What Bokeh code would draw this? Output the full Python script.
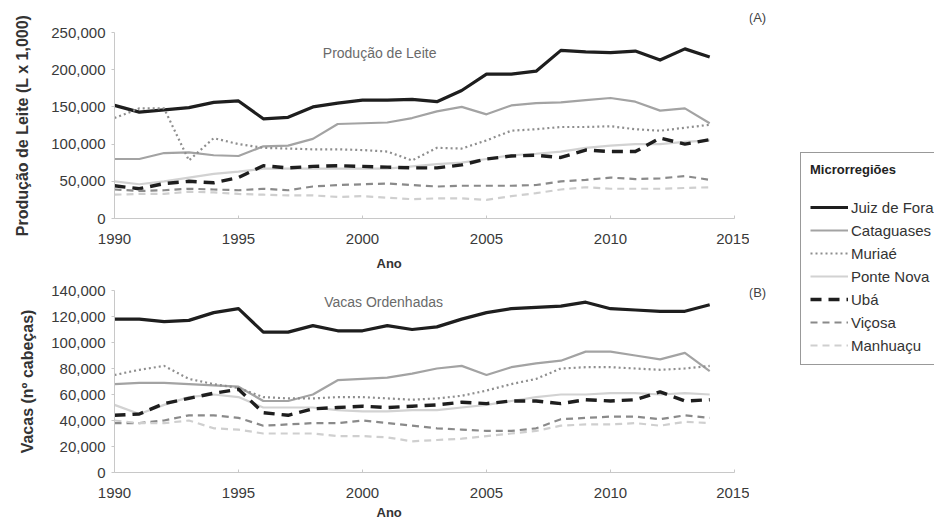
from bokeh.plotting import figure
from bokeh.layouts import row, column
from bokeh.models import (Range1d, FixedTicker, NumeralTickFormatter, Label, Title,
                          Legend, LegendItem, ColumnDataSource)
from bokeh.embed import file_html
from bokeh.resources import INLINE

years = list(range(1990, 2015))

regions = ["Juiz de Fora", "Cataguases", "Muriaé", "Ponte Nova", "Ubá", "Viçosa", "Manhuaçu"]

# Produção de leite (L x 1,000)
leite_juiz = [152000, 143000, 146000, 149000, 156000, 158000, 134000, 136000, 150000, 155000,
              159000, 159000, 160000, 157000, 172000, 194000, 194000, 198000, 226000, 224000,
              223000, 225000, 213000, 228000, 217000]
leite_catag = [80000, 80000, 88000, 89000, 85000, 84000, 97000, 98000, 107000, 127000,
               128000, 129000, 135000, 144000, 150000, 140000, 152000, 155000, 156000, 159000,
               162000, 157000, 145000, 148000, 128000]
leite_muriae = [135000, 148000, 148000, 78000, 108000, 100000, 95000, 94000, 93000, 93000,
                92000, 90000, 78000, 95000, 94000, 105000, 118000, 120000, 123000, 123000,
                124000, 120000, 118000, 122000, 126000]
leite_ponte = [50000, 46000, 50000, 55000, 60000, 63000, 67000, 67000, 67000, 67000,
               67000, 67000, 70000, 73000, 75000, 80000, 85000, 87000, 90000, 95000,
               98000, 100000, 100000, 103000, 105000]
leite_uba = [44000, 40000, 47000, 50000, 48000, 55000, 71000, 68000, 70000, 71000,
             70000, 69000, 68000, 68000, 72000, 80000, 84000, 85000, 82000, 92000,
             90000, 90000, 108000, 100000, 106000]
leite_vicosa = [39000, 37000, 38000, 40000, 39000, 38000, 40000, 38000, 43000, 45000,
                46000, 47000, 45000, 43000, 44000, 44000, 44000, 45000, 50000, 52000,
                55000, 53000, 54000, 57000, 52000]
leite_manhuacu = [32000, 33000, 33000, 36000, 35000, 33000, 32000, 31000, 31000, 29000,
                  30000, 28000, 26000, 27000, 27000, 25000, 30000, 34000, 39000, 42000,
                  40000, 40000, 40000, 41000, 42000]

# Vacas ordenhadas (nº cabeças)
vacas_juiz = [118000, 118000, 116000, 117000, 123000, 126000, 108000, 108000, 113000, 109000,
              109000, 113000, 110000, 112000, 118000, 123000, 126000, 127000, 128000, 131000,
              126000, 125000, 124000, 124000, 129000]
vacas_catag = [68000, 69000, 69000, 68000, 67000, 66000, 55000, 55000, 60000, 71000,
               72000, 73000, 76000, 80000, 82000, 75000, 81000, 84000, 86000, 93000,
               93000, 90000, 87000, 92000, 78000]
vacas_muriae = [75000, 79000, 82000, 72000, 68000, 65000, 58000, 57000, 57000, 58000,
                58000, 57000, 56000, 57000, 59000, 63000, 68000, 72000, 80000, 81000,
                81000, 80000, 79000, 80000, 82000]
vacas_ponte = [52000, 45000, 52000, 58000, 60000, 58000, 50000, 50000, 50000, 48000,
               47000, 47000, 48000, 48000, 50000, 52000, 55000, 58000, 60000, 60000,
               61000, 61000, 60000, 61000, 60000]
vacas_uba = [44000, 45000, 53000, 57000, 61000, 64000, 46000, 44000, 49000, 50000,
             51000, 50000, 51000, 52000, 54000, 53000, 55000, 55000, 53000, 56000,
             55000, 56000, 62000, 55000, 56000]
vacas_vicosa = [38000, 38000, 40000, 44000, 44000, 42000, 36000, 37000, 38000, 38000,
                40000, 38000, 36000, 34000, 33000, 32000, 32000, 34000, 41000, 42000,
                43000, 43000, 41000, 44000, 42000]
vacas_manhuacu = [40000, 38000, 38000, 40000, 34000, 33000, 30000, 30000, 30000, 28000,
                  28000, 27000, 24000, 25000, 26000, 28000, 30000, 32000, 36000, 37000,
                  37000, 38000, 36000, 39000, 38000]

x_ticks = [1990, 1995, 2000, 2005, 2010, 2015]
leite_ticks = [0, 50000, 100000, 150000, 200000, 250000]
vacas_ticks = [0, 20000, 40000, 60000, 80000, 100000, 120000, 140000]

styles = [
    dict(line_color="#1e1e1e", line_width=3.2, line_dash="solid"),
    dict(line_color="#a3a3a3", line_width=2.2, line_dash="solid"),
    dict(line_color="#8e8e8e", line_width=2.2, line_dash="2 3"),
    dict(line_color="#d2d2d2", line_width=2.2, line_dash="solid"),
    dict(line_color="#1e1e1e", line_width=3.4, line_dash="11 7"),
    dict(line_color="#8a8a8a", line_width=2.2, line_dash="7 5"),
    dict(line_color="#cfcfcf", line_width=2.2, line_dash="7 5"),
]

FONT = "Liberation Sans"


def make_panel(height, top, bottom, ymax, yticks, series, ylabel, ylab_standoff,
               title, tx, ty, ano_standoff):
    p = figure(width=749, height=height, output_backend="svg", toolbar_location=None,
               x_range=Range1d(1990, 2015), y_range=Range1d(0, ymax),
               min_border_left=114, min_border_right=15,
               min_border_top=top, min_border_bottom=bottom)
    p.outline_line_color = None
    p.grid.visible = False
    p.background_fill_color = "white"
    p.border_fill_color = "white"
    for ys, st in zip(series, styles):
        src = ColumnDataSource(dict(x=years, y=ys))
        p.line("x", "y", source=src, line_join="round", **st)
    p.xaxis.ticker = FixedTicker(ticks=x_ticks)
    p.yaxis.ticker = FixedTicker(ticks=yticks)
    p.yaxis.formatter = NumeralTickFormatter(format="0,0")
    for ax in (p.xaxis[0], p.yaxis[0]):
        ax.axis_line_color = "#c8c8c8"
        ax.major_tick_line_color = "#c8c8c8"
        ax.minor_tick_line_color = None
        ax.major_label_text_font = FONT
        ax.major_label_text_font_size = "15px"
        ax.major_label_text_color = "#3a3a3a"
    p.xaxis.major_tick_in = 3
    p.xaxis.major_tick_out = 0
    p.xaxis.major_label_standoff = 15
    p.yaxis.major_tick_in = 0
    p.yaxis.major_tick_out = 3
    p.yaxis.major_label_standoff = 6
    p.yaxis.axis_label = ylabel
    p.yaxis.axis_label_text_font = FONT
    p.yaxis.axis_label_text_font_size = "16px"
    p.yaxis.axis_label_text_font_style = "bold"
    p.yaxis.axis_label_text_color = "#333333"
    p.yaxis.axis_label_standoff = ylab_standoff
    p.add_layout(Label(x=tx, y=ty, text=title, text_font=FONT, text_font_size="14px",
                       text_color="#6a6a6a", text_align="center", text_baseline="middle"))
    p.add_layout(Title(text="Ano", align="left", offset=262, standoff=ano_standoff,
                       text_font=FONT, text_font_size="13px", text_font_style="bold",
                       text_color="#333333"), "below")
    return p


p1 = make_panel(280, 32, 62, 250000, leite_ticks,
                [leite_juiz, leite_catag, leite_muriae, leite_ponte, leite_uba, leite_vicosa, leite_manhuacu],
                "Produção de Leite (L x 1,000)", 17, "Produção de Leite", 2000.69, 221800, 15)
p2 = make_panel(243, 10, 51, 140000, vacas_ticks,
                [vacas_juiz, vacas_catag, vacas_muriae, vacas_ponte, vacas_uba, vacas_vicosa, vacas_manhuacu],
                "Vacas (nº cabeças)", 12, "Vacas Ordenhadas", 2000.85, 131500, 4)

# legend panel (data units equal pixels here)
p3 = figure(width=185, height=523, output_backend="svg", toolbar_location=None,
            x_range=Range1d(0, 185), y_range=Range1d(0, 523), min_border=0)
p3.axis.visible = False
p3.grid.visible = False
p3.outline_line_color = None
items = []
for name, st in zip(regions, styles):
    r = p3.line(x=[-50, -40], y=[-50, -40], **st)
    items.append(LegendItem(label=name, renderers=[r]))
leg = Legend(items=items, location=(51, 158), title="Microrregiões",
             title_text_font=FONT, title_text_font_size="13px", title_text_font_style="bold",
             title_text_color="#222222", title_standoff=20,
             label_text_font=FONT, label_text_font_size="15px", label_text_color="#333333",
             glyph_width=38, glyph_height=20, label_height=20, spacing=3, label_standoff=3,
             padding=9, label_width=120,
             border_line_color="#333333", border_line_width=1.5,
             background_fill_color="white", background_fill_alpha=1.0, margin=0)
p3.add_layout(leg)
for tag, ty in (("(A)", 506), ("(B)", 231)):
    p3.add_layout(Label(x=8, y=ty, text=tag, text_font=FONT, text_font_size="13px",
                        text_color="#444444", text_align="center", text_baseline="middle"))

layout = row(column(p1, p2), p3)
open("out.html", "w").write(file_html(layout, INLINE))
